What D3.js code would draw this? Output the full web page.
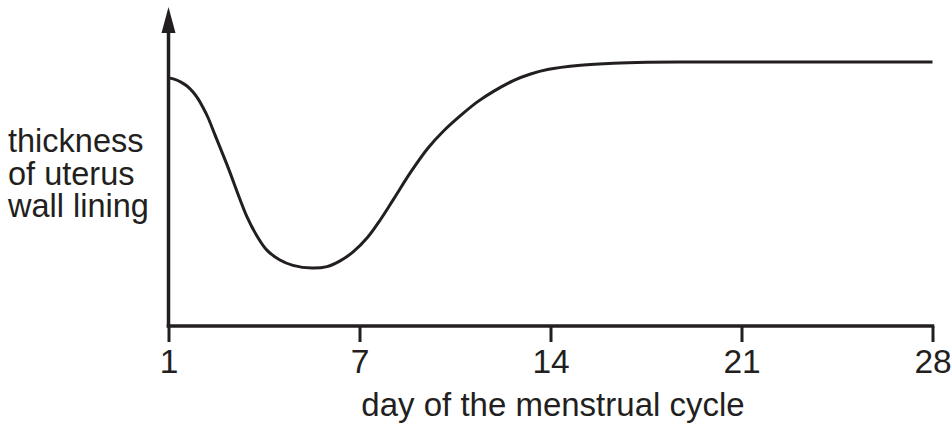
<!DOCTYPE html>
<html>
<head>
<meta charset="utf-8">
<script src="https://cdn.jsdelivr.net/npm/d3@7"></script>
<style>
  html, body { margin: 0; padding: 0; background: #fff; }
  svg { display: block; }
  text { font-family: "Liberation Sans", Arial, Helvetica, sans-serif; fill: #231f20; }
</style>
</head>
<body>
<svg id="chart" width="951" height="429"></svg>
<script>
// ---- data ----
const tickDays = [1, 7, 14, 21, 28];
const tickLabels = ["1", "7", "14", "21", "28"];
const days = [1.0, 1.20, 1.39, 1.58, 1.77, 1.93, 2.08, 2.24, 2.46, 2.84, 3.47, 3.78, 4.09, 4.50, 4.91, 5.51, 5.98, 6.39, 6.80,
              7.29, 7.77, 8.25, 8.87, 9.49, 10.08, 10.71, 11.32, 11.91, 12.64, 13.27, 13.89, 15.10, 16.31, 17.55, 19.50, 21.22, 28.0];
const thickness = [8.27, 8.22, 8.13, 8.0, 7.8, 7.57, 7.29, 6.95, 6.37, 5.37, 3.63, 3.0, 2.53, 2.2, 2.02, 1.93, 1.98, 2.17, 2.47,
                   2.95, 3.55, 4.23, 5.12, 5.91, 6.5, 7.02, 7.47, 7.82, 8.18, 8.4, 8.55, 8.69, 8.76, 8.79, 8.8, 8.8, 8.8];
const yLabelLines = ["thickness", "of uterus", "wall lining"];
const xTitle = "day of the menstrual cycle";

// ---- layout ----
const ink = "#231f20";
const svg = d3.select("#chart");
const x0 = 168.5, xStep = 191;
const x = d3.scaleLinear()
  .domain(tickDays)
  .range(tickDays.map((d, i) => x0 + i * xStep));
const y = d3.scaleLinear().domain([0, 10]).range([326, 26]);

// y axis line with arrow
const axisTop = 32;
svg.append("line")
  .attr("x1", x(1)).attr("x2", x(1))
  .attr("y1", y(0) + 1.5).attr("y2", axisTop)
  .attr("stroke", ink).attr("stroke-width", 3.5);
svg.append("path")
  .attr("d", `M${x(1)},7 L${x(1) - 7},${axisTop + 1} L${x(1) + 7},${axisTop + 1} Z`)
  .attr("fill", ink);

// x axis
const xAxis = d3.axisBottom(x)
  .tickValues(tickDays)
  .tickFormat((d, i) => tickLabels[i])
  .tickSize(16)
  .tickSizeOuter(0)
  .tickPadding(7);
const gx = svg.append("g")
  .attr("transform", `translate(0,${y(0)})`)
  .call(xAxis);
gx.select(".domain").attr("stroke", ink).attr("stroke-width", 3.5)
  .attr("d", `M${x(1) - 1.75},0H${x(28) + 1.75}`);
gx.selectAll(".tick line").attr("stroke", ink).attr("stroke-width", 3);
gx.selectAll(".tick text")
  .attr("fill", ink)
  .style("font-size", "33.5px")
  .style("font-family", "'Liberation Sans', Arial, sans-serif");

// curve
const line = d3.line()
  .x((d, i) => x(days[i]))
  .y((d, i) => y(thickness[i]))
  .curve(d3.curveCatmullRom.alpha(0.5));
svg.append("path")
  .datum(days)
  .attr("d", line)
  .attr("fill", "none")
  .attr("stroke", ink)
  .attr("stroke-width", 3);

// y label
const yl = svg.append("text")
  .attr("x", 8)
  .attr("y", 152)
  .style("font-size", "32.5px");
yLabelLines.forEach((t, i) => {
  yl.append("tspan").attr("x", 8).attr("y", 152 + i * 32.5).text(t);
});

// x title
svg.append("text")
  .attr("x", 553)
  .attr("y", 416)
  .attr("text-anchor", "middle")
  .style("font-size", "33px")
  .text(xTitle);
</script>
</body>
</html>
